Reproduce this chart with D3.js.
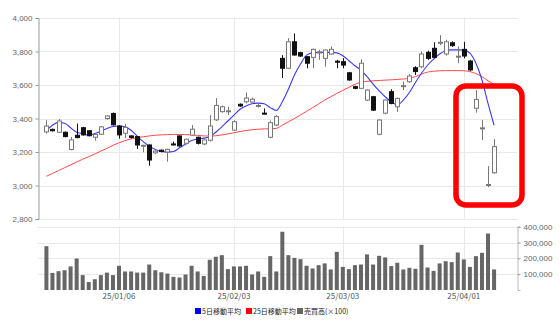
<!DOCTYPE html>
<html>
<head>
<meta charset="utf-8">
<script src="https://cdn.jsdelivr.net/npm/d3@7"></script>
<style>
  body { margin: 0; background: #fff; }
  svg { display: block; font-family: "Noto Sans CJK JP", "Noto Sans", sans-serif; }
</style>
</head>
<body>
<div class="display"></div>
<script>
// trading days shown on the chart
const dates = [
  '24/12/13','24/12/16','24/12/17','24/12/18','24/12/19','24/12/20','24/12/23','24/12/24','24/12/25','24/12/26','24/12/27','24/12/30',
  '25/01/06','25/01/07','25/01/08','25/01/09','25/01/10','25/01/14','25/01/15','25/01/16','25/01/17','25/01/20','25/01/21','25/01/22','25/01/23','25/01/24','25/01/27','25/01/28','25/01/29','25/01/30','25/01/31',
  '25/02/03','25/02/04','25/02/05','25/02/06','25/02/07','25/02/10','25/02/12','25/02/13','25/02/14','25/02/17','25/02/18','25/02/19','25/02/20','25/02/21','25/02/25','25/02/26','25/02/27','25/02/28',
  '25/03/03','25/03/04','25/03/05','25/03/06','25/03/07','25/03/10','25/03/11','25/03/12','25/03/13','25/03/14','25/03/17','25/03/18','25/03/19','25/03/21','25/03/24','25/03/25','25/03/26','25/03/27','25/03/28','25/03/31',
  '25/04/01','25/04/02','25/04/03','25/04/04','25/04/07','25/04/08'
];
const opens = [3320,3335,3318,3318,3215,3300,3345,3327,3288,3306,3400,3430,3355,3312,3296,3292,3236,3242,3195,3211,3200,3248,3296,3252,3301,3288,3248,3270,3392,3441,3444,
  3331,3485,3500,3498,3475,3432,3288,3361,3759,3700,3858,3793,3769,3765,3795,3759,3785,3742,
  3739,3673,3590,3580,3510,3530,3306,3432,3560,3470,3590,3620,3703,3709,3795,3819,3850,3785,3852,3768,
  3813,3743,3461,3338,3002,3076];
const highs = [3390,3340,3397,3322,3290,3370,3350,3330,3310,3355,3420,3436,3360,3367,3300,3296,3243,3245,3208,3215,3220,3262,3298,3280,3361,3292,3276,3420,3522,3478,3470,
  3390,3490,3555,3525,3490,3460,3388,3420,3778,3880,3908,3798,3772,3818,3810,3812,3830,3750,
  3760,3678,3595,3754,3575,3535,3395,3515,3575,3525,3620,3665,3712,3800,3805,3855,3898,3870,3860,3830,
  3858,3750,3570,3391,3116,3277];
const lows = [3310,3322,3315,3288,3210,3282,3298,3294,3268,3302,3392,3358,3280,3283,3280,3218,3198,3118,3188,3198,3142,3240,3232,3245,3298,3245,3240,3262,3385,3435,3420,
  3325,3470,3490,3495,3465,3425,3282,3355,3642,3695,3775,3768,3700,3700,3750,3710,3780,3700,
  3700,3625,3575,3575,3505,3445,3300,3425,3485,3440,3570,3612,3660,3700,3750,3760,3838,3775,3828,3730,
  3759,3683,3435,3272,2990,3070];
const closes = [3355,3327,3385,3292,3272,3286,3302,3297,3305,3350,3415,3362,3302,3347,3287,3242,3240,3152,3205,3203,3216,3243,3236,3276,3336,3252,3272,3355,3478,3470,3446,
  3381,3475,3522,3515,3478,3428,3375,3411,3700,3858,3779,3773,3730,3813,3797,3809,3813,3738,
  3719,3630,3580,3730,3570,3450,3391,3510,3490,3520,3596,3654,3680,3785,3759,3765,3855,3858,3835,3772,
  3773,3690,3514,3344,3006,3232];
const volumes = [277000,108000,119000,125000,149000,199000,94000,50000,68000,94000,110000,94000,153000,117000,117000,110000,110000,161000,125000,112000,104000,83000,79000,98000,153000,117000,89000,191000,210000,220000,132000,
  149000,149000,153000,98000,117000,83000,214000,117000,368000,220000,203000,195000,153000,136000,157000,168000,130000,241000,
  146000,132000,157000,161000,225000,161000,216000,206000,151000,172000,130000,140000,134000,285000,142000,121000,168000,182000,176000,237000,
  193000,146000,214000,235000,357000,130000];
// moving averages
const ma5 = [3330,3360,3377,3372,3345,3318,3310,3300,3310,3325,3340,3352,3355,3350,3330,3295,3262,3235,3215,3203,3200,3203,3225,3248,3268,3278,3283,3290,3318,3350,3385,
  3420,3455,3475,3488,3492,3488,3465,3448,3500,3575,3660,3725,3778,3792,3795,3795,3795,3792,
  3775,3745,3715,3688,3650,3605,3565,3530,3500,3482,3510,3555,3615,3670,3718,3755,3785,3805,3810,3810,
  3808,3790,3730,3630,3490,3360];
const ma25 = [3055,3072,3089,3106,3123,3140,3157,3172,3188,3205,3222,3240,3255,3268,3278,3285,3291,3296,3300,3302,3304,3305,3305,3304,3302,3299,3296,3295,3297,3302,3308,
  3315,3322,3328,3333,3336,3338,3339,3341,3360,3380,3400,3421,3443,3465,3487,3510,3530,3550,
  3568,3586,3604,3616,3622,3625,3627,3629,3631,3633,3636,3640,3650,3665,3677,3682,3685,3686,3686,3686,
  3685,3680,3668,3650,3625,3605];

const priceTicks = [2800, 3000, 3200, 3400, 3600, 3800, 4000];
const volumeTicks = [100000, 200000, 300000, 400000];
const dateTicks = ['25/01/06', '25/02/03', '25/03/03', '25/04/01'];
const legendItems = [
  { label: '5日移動平均', color: '#0000ff' },
  { label: '25日移動平均', color: '#ff0000' },
  { label: '売買高(×100)', color: '#666666' }
];

const config = {
  width: 560, height: 328,
  left: 38, right: 517,
  priceTop: 18, priceBottom: 219,
  volTop: 226.7, volBottom: 290
};

const data = dates.map((d, i) => ({
  date: d, i: i, open: opens[i], high: highs[i], low: lows[i], close: closes[i],
  volume: volumes[i], ma5: ma5[i], ma25: ma25[i]
}));

const svg = d3.select('.display').append('svg')
  .attr('width', config.width)
  .attr('height', config.height);

const x = d3.scaleLinear()
  .domain([-1.39, 77.79])
  .range([config.left, config.right]);
const y = d3.scaleLinear()
  .domain([2800, 4000])
  .range([config.priceBottom, config.priceTop]);
const yVol = d3.scaleLinear()
  .domain([0, 400000])
  .range([config.volBottom, config.volTop]);

const px = v => Math.round(v) + 0.5;

// grid
const grid = svg.append('g').attr('stroke', '#e8e8e8').attr('stroke-width', 1);
grid.selectAll('.hp').data(priceTicks).enter().append('line')
  .attr('x1', config.left).attr('x2', config.right)
  .attr('y1', d => px(y(d))).attr('y2', d => px(y(d)));
grid.selectAll('.hv').data(volumeTicks).enter().append('line')
  .attr('x1', config.left).attr('x2', config.right)
  .attr('y1', d => px(yVol(d))).attr('y2', d => px(yVol(d)));
grid.selectAll('.vp').data(dateTicks).enter().append('line')
  .attr('x1', d => px(x(dates.indexOf(d)))).attr('x2', d => px(x(dates.indexOf(d))))
  .attr('y1', config.priceTop).attr('y2', config.priceBottom);
grid.selectAll('.vv').data(dateTicks).enter().append('line')
  .attr('x1', d => px(x(dates.indexOf(d)))).attr('x2', d => px(x(dates.indexOf(d))))
  .attr('y1', config.volTop).attr('y2', config.volBottom);

// price axis
const yAxis = svg.append('g')
  .attr('transform', `translate(${config.left + 0.5},0)`)
  .call(d3.axisLeft(y).tickValues(priceTicks).tickSize(3).tickFormat(d3.format(',')));
yAxis.select('.domain').attr('stroke', '#999');
yAxis.selectAll('.tick line').attr('stroke', '#999');
yAxis.selectAll('text').attr('fill', '#666').style('font-size', '8px');

// volume axis
const vAxis = svg.append('g')
  .attr('transform', `translate(${config.right + 0.5},0)`)
  .call(d3.axisRight(yVol).tickValues(volumeTicks).tickSize(3).tickFormat(d3.format(',')));
vAxis.select('.domain').attr('stroke', '#bbb');
vAxis.selectAll('.tick line').attr('stroke', '#999');
vAxis.selectAll('text').attr('fill', '#666').style('font-size', '8px');

// date labels
svg.selectAll('.dlabel').data(dateTicks).enter().append('text')
  .attr('x', d => x(dates.indexOf(d)))
  .attr('y', 299)
  .attr('text-anchor', 'middle')
  .attr('fill', '#555')
  .style('font-size', '8px')
  .text(d => d);

// volume bars
svg.selectAll('.vol').data(data).enter().append('rect')
  .attr('x', d => x(d.i) - 2)
  .attr('width', 4)
  .attr('y', d => yVol(d.volume))
  .attr('height', d => config.volBottom - yVol(d.volume))
  .attr('fill', '#666');

// moving averages
const line = key => d3.line()
  .x(d => x(d.i))
  .y(d => y(d[key]))
  .curve(d3.curveMonotoneX);
svg.append('path').datum(data)
  .attr('fill', 'none').attr('stroke', '#ff4a4a').attr('stroke-width', 1)
  .attr('d', line('ma25'));
svg.append('path').datum(data)
  .attr('fill', 'none').attr('stroke', '#3a3af5').attr('stroke-width', 1.1)
  .attr('d', line('ma5'));

// candles
const candles = svg.selectAll('.candle').data(data).enter().append('g');
candles.append('line')
  .attr('x1', d => px(x(d.i))).attr('x2', d => px(x(d.i)))
  .attr('y1', d => y(d.high)).attr('y2', d => y(d.low))
  .attr('stroke', d => d.close < d.open ? '#111' : '#777')
  .attr('stroke-width', 1);
candles.append('rect')
  .attr('x', d => Math.round(x(d.i)) - 1.5)
  .attr('width', 4)
  .attr('y', d => y(Math.max(d.open, d.close)))
  .attr('height', d => Math.max(1, y(Math.min(d.open, d.close)) - y(Math.max(d.open, d.close))))
  .attr('fill', d => d.close < d.open ? '#111' : '#fff')
  .attr('stroke', d => d.close < d.open ? '#111' : '#777')
  .attr('stroke-width', 1);

// highlight box round the last days
svg.append('rect')
  .attr('x', 456).attr('y', 86)
  .attr('width', 66).attr('height', 119)
  .attr('rx', 10).attr('ry', 10)
  .attr('fill', 'none')
  .attr('stroke', '#ff0000')
  .attr('stroke-width', 5.5);

// legend
const legend = svg.append('g').attr('transform', 'translate(195,308)');
const legendX = [0, 51, 102];
legendItems.forEach((item, k) => {
  const g = legend.append('g').attr('transform', `translate(${legendX[k]},0)`);
  g.append('rect').attr('width', 6).attr('height', 6).attr('fill', item.color);
  g.append('text').attr('x', 7).attr('y', 6.3)
    .attr('fill', '#222')
    .style('font-size', '7px')
    .text(item.label);
});
</script>
</body>
</html>
